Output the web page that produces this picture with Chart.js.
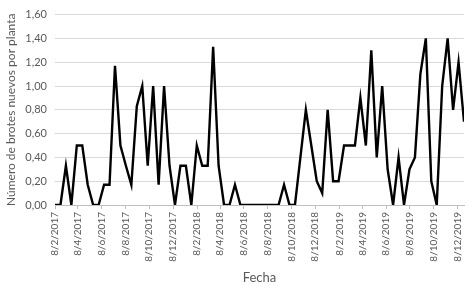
<!DOCTYPE html>
<html>
<head>
<meta charset="utf-8">
<script src="https://cdn.jsdelivr.net/npm/chart.js@4"></script>
<style>
  html, body { margin: 0; padding: 0; background: #fff; }
  #wrap { width: 468px; height: 289px; position: relative; }
</style>
</head>
<body>
<div id="wrap"><canvas id="chart"></canvas></div>
<script>
// Sampling dates (d/m/yyyy) and new shoots per plant
const sampleDates = [
  "8/2/2017", "22/2/2017", "8/3/2017", "22/3/2017", "5/4/2017", "19/4/2017",
  "3/5/2017", "17/5/2017", "31/5/2017", "14/6/2017", "28/6/2017", "12/7/2017",
  "26/7/2017", "9/8/2017", "23/8/2017", "6/9/2017", "20/9/2017", "4/10/2017",
  "18/10/2017", "1/11/2017", "15/11/2017", "29/11/2017", "13/12/2017", "27/12/2017",
  "10/1/2018", "24/1/2018", "7/2/2018", "21/2/2018", "7/3/2018", "21/3/2018",
  "4/4/2018", "18/4/2018", "2/5/2018", "16/5/2018", "30/5/2018", "13/6/2018",
  "27/6/2018", "11/7/2018", "25/7/2018", "8/8/2018", "22/8/2018", "5/9/2018",
  "19/9/2018", "3/10/2018", "17/10/2018", "31/10/2018", "14/11/2018", "28/11/2018",
  "12/12/2018", "26/12/2018",
  "9/1/2019", "23/1/2019", "6/2/2019", "20/2/2019", "6/3/2019", "20/3/2019",
  "3/4/2019", "17/4/2019", "1/5/2019", "15/5/2019", "29/5/2019", "12/6/2019",
  "26/6/2019", "10/7/2019", "24/7/2019", "7/8/2019", "21/8/2019", "4/9/2019",
  "18/9/2019", "2/10/2019", "16/10/2019", "30/10/2019", "13/11/2019", "27/11/2019",
  "11/12/2019", "25/12/2019"
];

const shoots = [
  0, 0, 0.33, 0, 0.5, 0.5, 0.17, 0, 0, 0.17, 0.17, 1.17,
  0.5, 0.33, 0.17, 0.83, 1.0, 0.33, 1.0, 0.17, 1.0, 0.33, 0, 0.33,
  0.33, 0, 0.5, 0.33, 0.33, 1.33, 0.33, 0, 0, 0.17, 0, 0,
  0, 0, 0, 0, 0, 0, 0.17, 0, 0, 0.4, 0.8, 0.5,
  0.2, 0.1,
  0.8, 0.2, 0.2, 0.5, 0.5, 0.5, 0.9, 0.5, 1.3, 0.4, 1.0, 0.3,
  0, 0.4, 0, 0.3, 0.4, 1.1, 1.4, 0.2, 0, 1.0, 1.4, 0.8,
  1.2, 0.7
];

// Axis tick labels
const xTickLabels = [
  "8/2/2017", "8/4/2017", "8/6/2017", "8/8/2017", "8/10/2017", "8/12/2017",
  "8/2/2018", "8/4/2018", "8/6/2018", "8/8/2018", "8/10/2018", "8/12/2018",
  "8/2/2019", "8/4/2019", "8/6/2019", "8/8/2019", "8/10/2019", "8/12/2019"
];
const yMin = 0;
const yMax = 1.6;
const yStep = 0.2;

const FONT = "Lato, 'Open Sans', sans-serif";
const TEXT = "#595959";

// days since the first sampling date
function toDays(s) {
  const [d, m, y] = s.split("/").map(Number);
  return (Date.UTC(y, m - 1, d) - Date.UTC(2017, 1, 8)) / 86400000;
}

const points = sampleDates.map((d, i) => ({ x: toDays(d), y: shoots[i] }));
const tickDays = xTickLabels.map(toDays);

new Chart(document.getElementById("chart"), {
  type: "line",
  data: {
    datasets: [
      {
        data: points,
        borderColor: "#000000",
        borderWidth: 2.4,
        pointRadius: 0,
        tension: 0,
      },
    ],
  },
  options: {
    responsive: true,
    maintainAspectRatio: false,
    animation: false,
    layout: { padding: { top: 10, right: 4, left: 0, bottom: 0 } },
    plugins: { legend: { display: false }, tooltip: { enabled: false } },
    scales: {
      x: {
        type: "linear",
        min: 0,
        max: toDays(sampleDates[sampleDates.length - 1]),
        afterBuildTicks: (scale) => {
          scale.ticks = tickDays.map((v) => ({ value: v }));
        },
        afterFit: (scale) => {
          scale.height = 84;
          scale.paddingLeft = 0;
          scale.paddingRight = 0;
        },
        ticks: {
          autoSkip: false,
          minRotation: 90,
          maxRotation: 90,
          color: TEXT,
          font: { family: FONT, size: 10 },
          padding: 3,
          callback: (v) => {
            const i = tickDays.indexOf(v);
            return i >= 0 ? xTickLabels[i] : "";
          },
        },
        grid: {
          drawOnChartArea: false,
          drawTicks: true,
          tickLength: 4,
          color: "#bfbfbf",
        },
        border: { color: "#bfbfbf" },
        title: {
          display: true,
          text: "Fecha",
          color: TEXT,
          font: { family: FONT, size: 13 },
          padding: { top: 2, bottom: 3 },
        },
      },
      y: {
        min: yMin,
        max: yMax,
        afterFit: (scale) => {
          scale.width = 55;
        },
        ticks: {
          stepSize: yStep,
          color: TEXT,
          font: { family: FONT, size: 11 },
          padding: 8,
          callback: (v) => v.toFixed(2).replace(".", ","),
        },
        grid: {
          color: "#d9d9d9",
          drawTicks: false,
        },
        border: { display: false },
        title: {
          display: true,
          text: "Número de brotes nuevos por planta",
          color: TEXT,
          font: { family: FONT, size: 12 },
          padding: { top: 4, bottom: 0 },
        },
      },
    },
  },
});
</script>
</body>
</html>
